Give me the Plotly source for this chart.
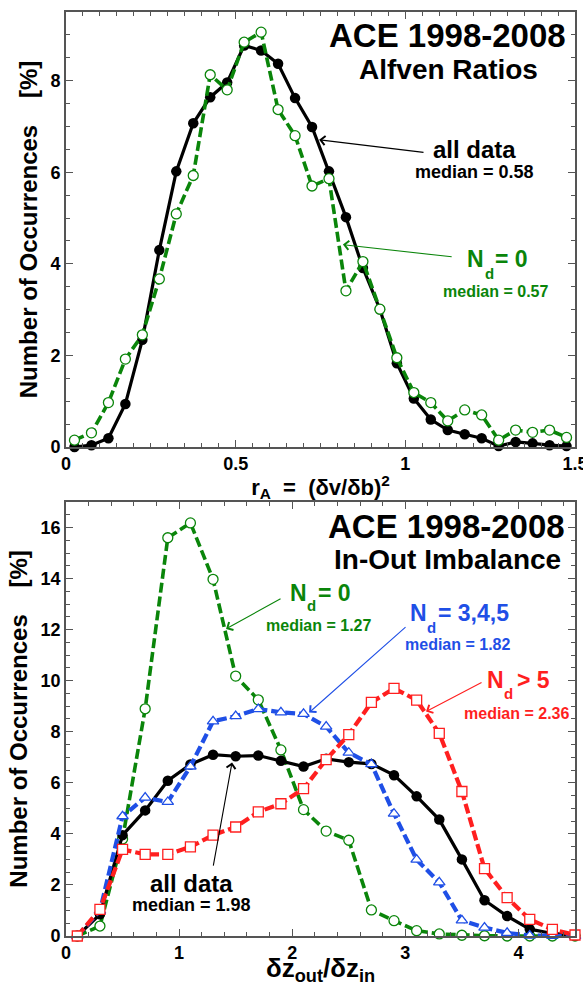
import plotly.graph_objects as go

# ---------------- data: top panel (Alfven ratios) ----------------
ra_x = [0.025, 0.075, 0.125, 0.175, 0.225, 0.275, 0.325, 0.375, 0.425, 0.475,
        0.525, 0.575, 0.625, 0.675, 0.725, 0.775, 0.825, 0.875, 0.925, 0.975,
        1.025, 1.075, 1.125, 1.175, 1.225, 1.275, 1.325, 1.375, 1.425, 1.475]
ra_all = [0.0, 0.04, 0.19, 0.94, 2.34, 4.30, 6.02, 7.07, 7.64, 7.96,
          8.77, 8.66, 8.37, 7.62, 6.99, 6.02, 5.02, 3.91, 3.01, 1.83,
          1.06, 0.60, 0.37, 0.28, 0.19, 0.02, 0.11, 0.08, 0.04, 0.02]
ra_nd0 = [0.15, 0.31, 0.97, 1.92, 2.45, 3.67, 5.09, 5.93, 8.13, 7.80,
          8.84, 9.06, 7.37, 6.80, 5.70, 5.86, 3.41, 4.05, 3.01, 1.95,
          1.19, 0.97, 0.57, 0.81, 0.70, 0.15, 0.37, 0.32, 0.37, 0.21]

# ---------------- data: bottom panel (In-Out imbalance) ----------------
dz_x = [0.1, 0.3, 0.5, 0.7, 0.9, 1.1, 1.3, 1.5, 1.7, 1.9, 2.1, 2.3,
        2.5, 2.7, 2.9, 3.1, 3.3, 3.5, 3.7, 3.9, 4.1, 4.3, 4.5]
dz_all = [0.0, 0.85, 3.95, 4.92, 6.08, 6.72, 7.10, 7.04, 7.07, 6.86, 6.64, 6.94,
          6.81, 6.74, 6.30, 5.47, 4.56, 3.00, 1.40, 0.78, 0.27, 0.10, 0.03]
dz_nd0 = [0.0, 0.39, 3.80, 8.90, 15.60, 16.18, 13.97, 10.18, 9.25, 7.29, 4.95, 4.11,
          3.75, 1.02, 0.60, 0.21, 0.08, 0.03, 0.01, 0.0, 0.0, 0.0, 0.0]
dz_nd345 = [0.0, 0.99, 4.69, 5.42, 5.25, 6.64, 8.41, 8.61, 8.89, 8.76, 8.70, 8.20,
            7.18, 6.73, 4.79, 2.99, 2.10, 0.61, 0.33, 0.12, 0.02, 0.01, 0.0]
dz_nd5 = [0.0, 1.04, 3.39, 3.20, 3.20, 3.49, 3.95, 4.27, 4.86, 5.18, 5.77, 6.91,
          7.89, 9.15, 9.70, 9.24, 7.94, 5.66, 2.64, 1.50, 0.65, 0.26, 0.04]

FONT = "Liberation Sans, Arial, Helvetica, sans-serif"
BLACK = "#000000"
GREEN = "#0a850a"
BLUE = "#1f4fe6"
RED = "#ff1f1f"
AXC = "#555555"

fig = go.Figure()

def filled(x, y, xa, ya):
    return go.Scatter(x=x, y=y, xaxis=xa, yaxis=ya, mode="lines+markers",
                      line=dict(color=BLACK, width=3.2),
                      marker=dict(symbol="circle", size=10.5, color=BLACK),
                      showlegend=False, cliponaxis=False)

def hollow(x, y, xa, ya, color, symbol, width=4):
    return go.Scatter(x=x, y=y, xaxis=xa, yaxis=ya, mode="lines+markers",
                      line=dict(color=color, width=width, dash="10px,4px"),
                      marker=dict(symbol=symbol, size=10, color="white",
                                  line=dict(color=color, width=1.3)),
                      showlegend=False, cliponaxis=False)

# top
fig.add_trace(filled(ra_x, ra_all, "x", "y"))
fig.add_trace(hollow(ra_x, ra_nd0, "x", "y", GREEN, "circle", 3.6))
# bottom
fig.add_trace(hollow(dz_x, dz_nd0, "x2", "y2", GREEN, "circle", 3.6))
fig.add_trace(filled(dz_x, dz_all, "x2", "y2"))
fig.add_trace(hollow(dz_x, dz_nd345, "x2", "y2", BLUE, "triangle-up", 4.2))
fig.add_trace(hollow(dz_x, dz_nd5, "x2", "y2", RED, "square", 4.2))

tickfont = dict(family=FONT, size=18, color="black", weight="bold")

def xaxis(rng, dtick, mdtick, title, anchor, tsize):
    return dict(range=rng, dtick=dtick, tick0=0, ticks="inside", ticklen=7, tickwidth=1.3,
                tickcolor=AXC, showline=True, linecolor=AXC, linewidth=1.6, mirror="ticks",
                showgrid=False, zeroline=False, tickfont=tickfont, anchor=anchor,
                ticklabeloverflow="allow", automargin=False,
                minor=dict(dtick=mdtick, tick0=0, ticks="inside", ticklen=4, tickcolor=AXC,
                           tickwidth=1.1, showgrid=False),
                title=dict(text=title, font=dict(family=FONT, size=tsize, color="black", weight="bold"),
                           standoff=6))

def yaxis(rng, dom, anchor):
    return dict(range=rng, domain=dom, dtick=2, tick0=0, ticks="inside", ticklen=7, tickwidth=1.3,
                tickcolor=AXC, showline=True, linecolor=AXC, linewidth=1.6, mirror="ticks",
                showgrid=False, zeroline=False, tickfont=tickfont, anchor=anchor,
                automargin=False,
                minor=dict(dtick=0.5, tick0=0, ticks="inside", ticklen=4, tickcolor=AXC,
                           tickwidth=1.1, showgrid=False),
                title=dict(text="Number of Occurrences\u00a0\u00a0\u00a0\u00a0[%]",
                           font=dict(family=FONT, size=24, color="black", weight="bold"),
                           standoff=6))

fig.update_layout(
    width=583, height=986,
    margin=dict(l=66, r=8, t=12, b=50),
    paper_bgcolor="white", plot_bgcolor="white",
    font=dict(family=FONT, color="black"),
    xaxis=xaxis([0, 1.5], 0.5, 0.05, "r<sub>A</sub>\u00a0\u00a0=\u00a0\u00a0(δv/δb)<sup>2</sup>", "y", 22),
    yaxis=yaxis([0, 9.5], [0.5292, 1.0], "x"),
    xaxis2=xaxis([0, 4.5], 1, 0.2, "δz<sub>out</sub>/δz<sub>in</sub>", "y2", 26),
    yaxis2=yaxis([0, 17], [0.0, 0.4697], "x2"),
)

def txt(x, y, text, size, color, xr="x", yr="y", xanchor="center"):
    return dict(x=x, y=y, xref=xr, yref=yr, text="<b>" + text + "</b>", showarrow=False,
                xanchor=xanchor, yanchor="middle",
                font=dict(family=FONT, size=size, color=color))

def arrow(hx, hy, tx, ty, color, xr="x", yr="y"):
    return dict(x=hx, y=hy, ax=tx, ay=ty, xref=xr, yref=yr, axref=xr, ayref=yr,
                text="", showarrow=True, arrowhead=4, arrowsize=1.6, arrowwidth=1.1,
                arrowcolor=color, standoff=0, startstandoff=0)

def nd_label(xn, yn, xd, yd, xr_, rest, color, xref="x", yref="y"):
    return [
        txt(xn, yn, "N", 23, color, xref, yref, xanchor="left"),
        txt(xd, yd, "d", 15, color, xref, yref, xanchor="left"),
        txt(xr_, yn, rest, 23, color, xref, yref, xanchor="left"),
    ]

ann = [
    # top panel
    txt(1.478, 8.98, "ACE 1998-2008", 33, BLACK, xanchor="right"),
    txt(1.126, 8.25, "Alfven Ratios", 28, BLACK),
    txt(1.204, 6.49, "all data", 24, BLACK),
    txt(1.204, 6.01, "median = 0.58", 18, BLACK),
    arrow(0.746, 6.71, 1.058, 6.43, BLACK),
    txt(1.266, 3.39, "median = 0.57", 16, GREEN),
    arrow(0.816, 4.42, 1.141, 4.15, GREEN),
    # bottom panel
    txt(4.43, 16.05, "ACE 1998-2008", 33, BLACK, "x2", "y2", xanchor="right"),
    txt(3.373, 14.75, "In-Out Imbalance", 28, BLACK, "x2", "y2"),
    txt(2.233, 12.15, "median = 1.27", 16, GREEN, "x2", "y2"),
    arrow(1.415, 12.03, 1.91, 13.24, GREEN, "x2", "y2"),
    txt(3.462, 11.41, "median = 1.82", 16, BLUE, "x2", "y2"),
    arrow(2.149, 8.75, 3.015, 12.15, BLUE, "x2", "y2"),
    txt(3.979, 8.71, "median = 2.36", 16, RED, "x2", "y2"),
    arrow(3.183, 8.79, 3.687, 9.96, RED, "x2", "y2"),
    txt(1.11, 2.07, "all data", 24, BLACK, "x2", "y2"),
    txt(1.11, 1.21, "median = 1.98", 18, BLACK, "x2", "y2"),
    arrow(1.468, 6.80, 1.30, 2.70, BLACK, "x2", "y2"),
]
ann += nd_label(1.176, 4.11, 1.228, 3.80, 1.258, "= 0", GREEN)
ann += nd_label(1.963, 13.45, 2.111, 12.94, 2.212, "= 0", GREEN, "x2", "y2")
ann += nd_label(3.024, 12.67, 3.176, 12.08, 3.273, "= 3,4,5", BLUE, "x2", "y2")
ann += nd_label(3.705, 10.01, 3.857, 9.50, 3.972, "> 5", RED, "x2", "y2")
fig.update_layout(annotations=ann)

fig.write_html("out.html")
